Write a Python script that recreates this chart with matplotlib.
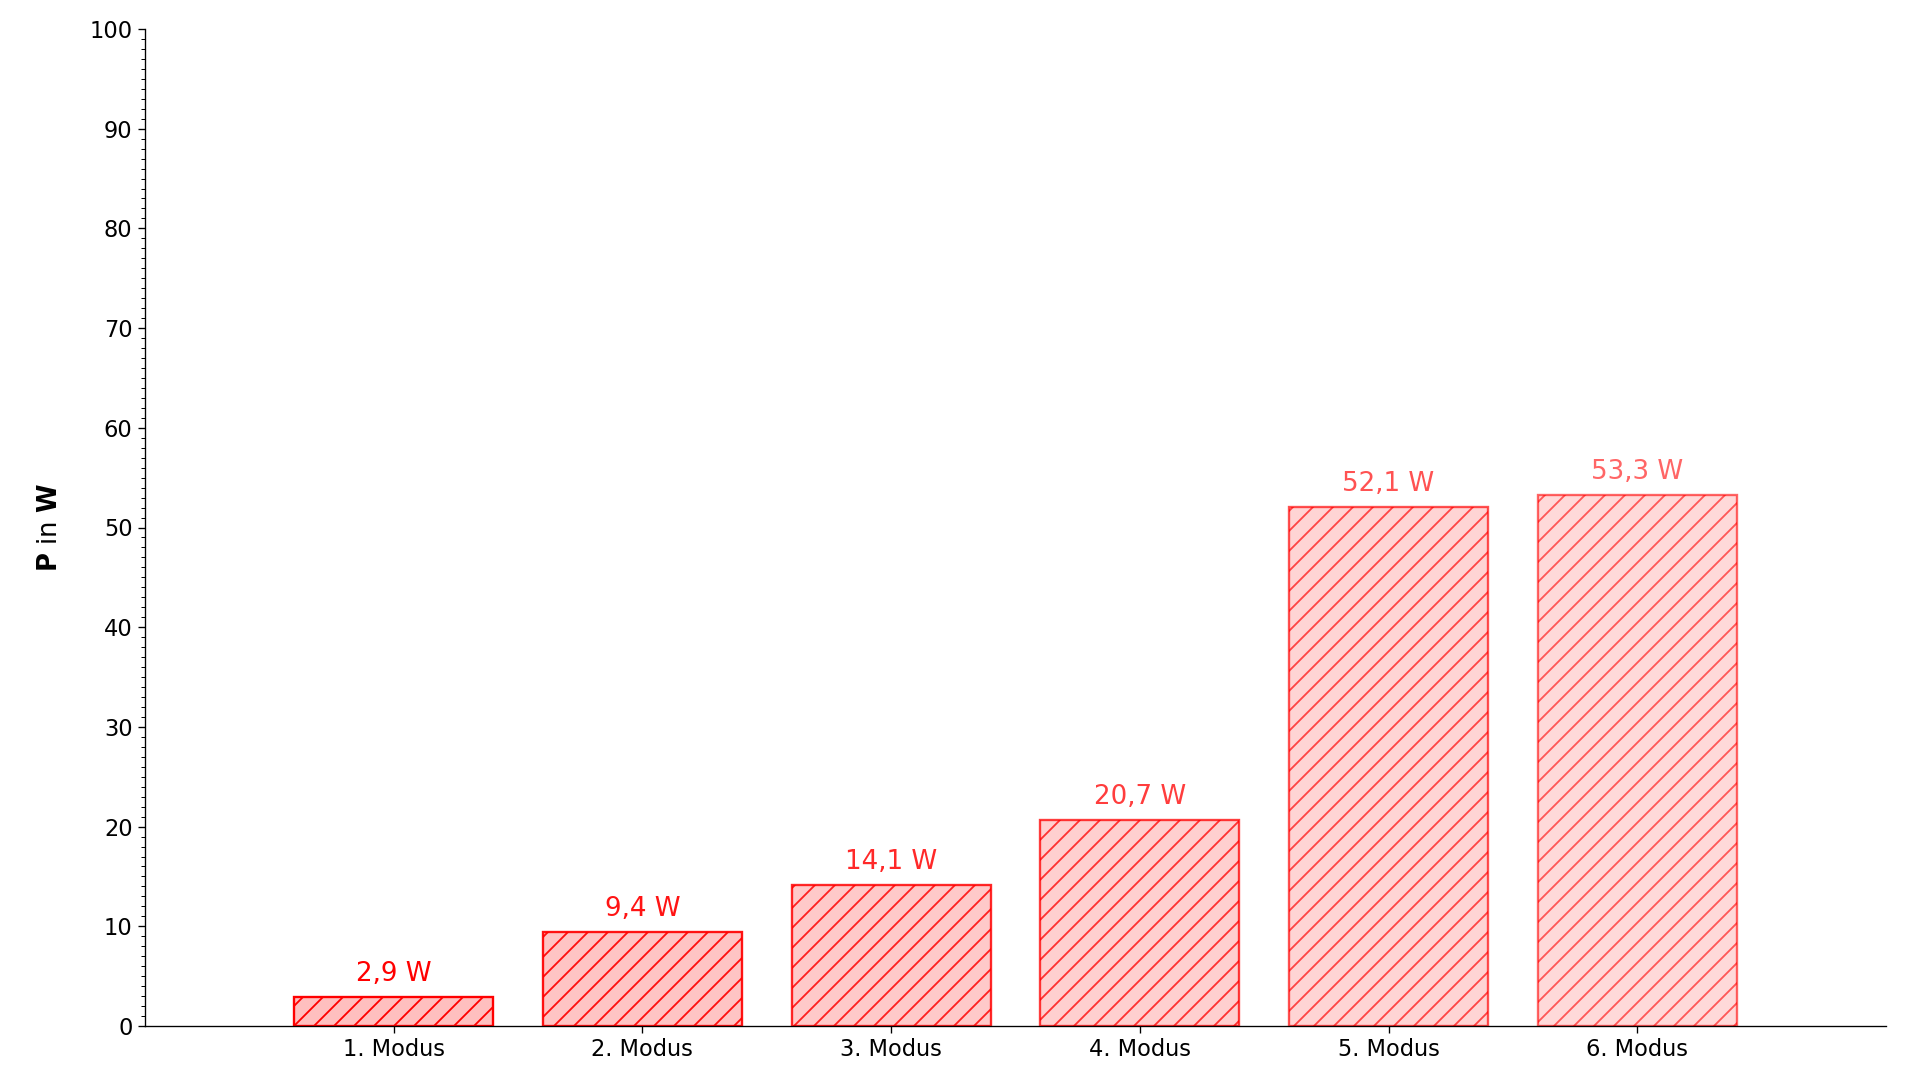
import matplotlib
matplotlib.use("Agg")
import matplotlib.pyplot as plt
from matplotlib.ticker import MultipleLocator

categories = ["1. Modus", "2. Modus", "3. Modus", "4. Modus", "5. Modus", "6. Modus"]
values = [2.9, 9.4, 14.1, 20.7, 52.1, 53.3]
labels = ["2,9 W", "9,4 W", "14,1 W", "20,7 W", "52,1 W", "53,3 W"]
alphas = [1.0, 0.92, 0.84, 0.76, 0.68, 0.6]

plt.rcParams['hatch.linewidth'] = 1.1
fig = plt.figure(figsize=(16, 9), dpi=120)
ax = fig.add_axes([145/1920, 1 - 1026/1080, (1886 - 145)/1920, (1026 - 29)/1080])

x = list(range(len(categories)))
for i, (v, a, lab) in enumerate(zip(values, alphas, labels)):
    ax.bar(i, v, width=0.8, color=(1, 0, 0, 0.25 * a), edgecolor=(1, 0, 0, a),
           hatch="//", linewidth=1.4)
    ax.text(i, v + 1.0, lab, ha="center", va="bottom", fontsize=15.7,
            color=(1, 0, 0, a))

ax.set_xlim(-1, 6)
ax.set_ylim(0, 100)
ax.set_xticks(x)
ax.set_xticklabels(categories, fontsize=13.5)
ax.yaxis.set_major_locator(MultipleLocator(10))
ax.yaxis.set_minor_locator(MultipleLocator(1))
ax.tick_params(axis="y", labelsize=13.5, length=4)
ax.tick_params(axis="x", length=4)
ax.tick_params(axis="y", which="minor", length=2.5)
for s in ["top", "right"]:
    ax.spines[s].set_visible(False)
ax.set_ylabel(r"$\mathbf{P}$ in $\mathbf{W}$", fontsize=15.5, labelpad=16)

fig.savefig("out.png", dpi=120)
